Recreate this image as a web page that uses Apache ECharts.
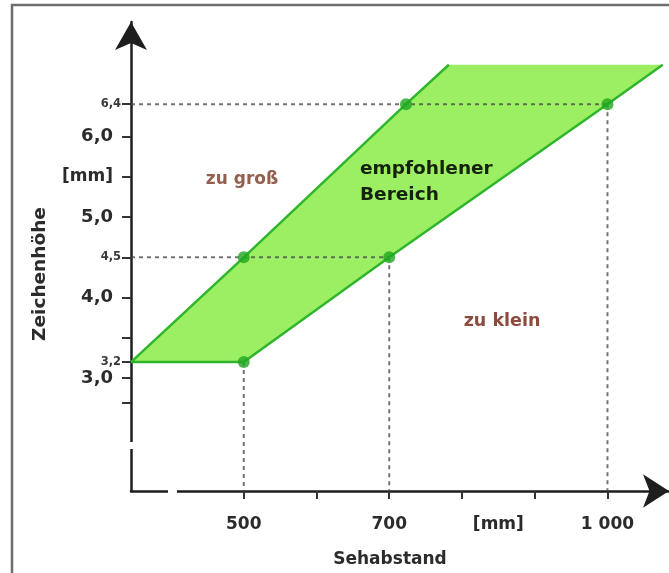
<!DOCTYPE html>
<html>
<head>
<meta charset="utf-8">
<script src="https://cdn.jsdelivr.net/npm/echarts@6/dist/echarts.min.js"></script>
<style>
html,body{margin:0;padding:0;background:#fff;}
#chart{width:669px;height:573px;}
</style>
</head>
<body>
<div id="chart"></div>
<script>
// ---- data ----
const xMin = 345, xMax = 1084.6;
const yMin = 1.6, yMax = 7.42;

const xTickValues = [500, 600, 700, 800, 900, 1000];
const xLabelValues = [500, 700, 850, 1000];
const xLabelTexts = ['500', '700', '[mm]', '1 000'];

const yTickValues = [2.7, 3.0, 3.2, 3.5, 4.0, 4.5, 5.0, 5.5, 6.0, 6.4];
const yMajorLabels = [3.0, 4.0, 5.0, 6.0];
const yMinorLabels = [3.2, 4.5, 6.4];
const yUnitValue = 5.5;

// recommended region (polygon vertices)
const regionX = [345, 500, 723, 782, 1076, 1000, 700, 500];
const regionY = [3.2, 4.5, 6.4, 6.89, 6.89, 6.4, 4.5, 3.2];

// boundary lines
const upperX = [345, 500, 723, 782];
const upperY = [3.2, 4.5, 6.4, 6.89];
const lowerX = [345, 500, 700, 1000, 1076];
const lowerY = [3.2, 3.2, 4.5, 6.4, 6.89];

// marked points
const pointX = [500, 500, 700, 723, 1000];
const pointY = [3.2, 4.5, 4.5, 6.4, 6.4];

// dashed guides: horizontal (y value up to x) and vertical (x value down from y)
const guideHY = [6.4, 4.5];
const guideHX = [1000, 700];
const guideVX = [500, 700, 1000];
const guideVY = [3.2, 4.5, 6.4];

// ---- chart ----
const chart = echarts.init(document.getElementById('chart'), null, {renderer: 'canvas'});
const fmt = v => v.toFixed(1).replace('.', ',');
const near = (a, b) => Math.abs(a - b) < 1e-6;

const guideStyle = {color: 'rgba(70,70,70,0.75)', width: 2, type: [4, 4]};
const guideSeries = [];
guideHY.forEach((y, i) => {
  guideSeries.push({type: 'line', data: [[xMin, y], [guideHX[i], y]], symbol: 'none',
    lineStyle: guideStyle, z: 3, silent: true, animation: false});
});
guideVX.forEach((x, i) => {
  guideSeries.push({type: 'line', data: [[x, guideVY[i]], [x, yMin]], symbol: 'none',
    lineStyle: guideStyle, z: 3, silent: true, animation: false});
});

const option = {
  animation: false,
  backgroundColor: '#fff',
  grid: {left: 131, right: 0, top: 22, bottom: 81},
  xAxis: {
    type: 'value', min: xMin, max: xMax,
    splitLine: {show: false},
    axisLine: {show: true, onZero: false, lineStyle: {color: '#1e1e1e', width: 2.5},
      symbol: ['none', 'arrow'], symbolSize: [25, 26]},
    axisTick: {show: true, customValues: xTickValues, length: 8, inside: false,
      lineStyle: {color: '#333', width: 2}},
    axisLabel: {
      customValues: xLabelValues, margin: 25,
      formatter: v => { const i = xLabelValues.findIndex(a => near(a, v)); return i >= 0 ? xLabelTexts[i] : ''; },
      fontFamily: 'DejaVu Sans', fontWeight: 'bold', fontSize: 17, color: '#2b2b2b'
    },
    name: 'Sehabstand', nameLocation: 'middle', nameGap: 60,
    nameTextStyle: {fontFamily: 'DejaVu Sans', fontWeight: 'bold', fontSize: 17, color: '#2b2b2b', padding: [0, 20, 0, 0]}
  },
  yAxis: {
    type: 'value', min: yMin, max: yMax,
    splitLine: {show: false},
    axisLine: {show: true, onZero: false, lineStyle: {color: '#1e1e1e', width: 2.5},
      symbol: ['none', 'arrow'], symbolSize: [24, 28]},
    axisTick: {show: true, customValues: yTickValues, length: 9,
      lineStyle: {color: '#333', width: 2}},
    axisLabel: {
      customValues: yMajorLabels.concat(yMinorLabels, [yUnitValue]),
      margin: 10,
      formatter: v => {
        if (near(v, yUnitValue)) return '{u|[mm]}';
        if (yMinorLabels.some(a => near(a, v))) return '{s|' + fmt(v) + '}';
        return '{b|' + fmt(v) + '}';
      },
      rich: {
        b: {fontFamily: 'DejaVu Sans', fontWeight: 'bold', fontSize: 18, color: '#2b2b2b', padding: [0, 8, 0, 0]},
        s: {fontFamily: 'DejaVu Sans', fontWeight: 'bold', fontSize: 11.5, color: '#3a3a3a'},
        u: {fontFamily: 'DejaVu Sans', fontWeight: 'bold', fontSize: 17, color: '#2b2b2b', padding: [0, 8, 0, 0]}
      }
    }
  },
  graphic: [
    {type: 'rect', shape: {x: 12, y: 5, width: 700, height: 620}, style: {fill: 'none', stroke: '#6e6e6e', lineWidth: 2.5}, z: 0, silent: true},
    {type: 'text', x: 40, y: 274, rotation: Math.PI / 2,
      style: {text: 'Zeichenhöhe', fontFamily: 'DejaVu Sans', fontWeight: 'bold', fontSize: 18.5, fill: '#2b2b2b', align: 'center', verticalAlign: 'middle'}, z: 10},
    {type: 'text', x: 242, y: 180,
      style: {text: 'zu groß', fontFamily: 'DejaVu Sans', fontWeight: 'bold', fontSize: 17, fill: '#93604f', align: 'center', verticalAlign: 'middle'}, z: 10},
    {type: 'text', x: 360, y: 182,
      style: {text: 'empfohlener\nBereich', fontFamily: 'DejaVu Sans', fontWeight: 'bold', fontSize: 18.5, lineHeight: 26, fill: '#15220e', align: 'left', verticalAlign: 'middle'}, z: 10},
    {type: 'text', x: 502, y: 321,
      style: {text: 'zu klein', fontFamily: 'DejaVu Sans', fontWeight: 'bold', fontSize: 17.5, fill: '#8c4b3d', align: 'center', verticalAlign: 'middle'}, z: 10},
    // axis breaks
    {type: 'rect', shape: {x: 125, y: 442, width: 12, height: 7}, style: {fill: '#fff'}, z: 20, silent: true},
    {type: 'rect', shape: {x: 168, y: 485, width: 9, height: 12}, style: {fill: '#fff'}, z: 20, silent: true}
  ],
  series: [
    {
      type: 'custom', clip: false, z: 1, silent: true,
      data: [0],
      renderItem: (params, api) => {
        const pts = regionX.map((x, i) => api.coord([x, regionY[i]]));
        return {type: 'polygon', shape: {points: pts}, style: {fill: '#9cef62', stroke: 'none'}};
      }
    },
    ...guideSeries,
    {type: 'line', data: upperX.map((x, i) => [x, upperY[i]]), symbol: 'none', clip: false,
      lineStyle: {color: '#2fb52c', width: 2.5}, z: 4, silent: true},
    {type: 'line', data: lowerX.map((x, i) => [x, lowerY[i]]), symbol: 'none', clip: false,
      lineStyle: {color: '#2fb52c', width: 2.5}, z: 4, silent: true},
    {type: 'scatter', data: pointX.map((x, i) => [x, pointY[i]]), symbol: 'circle', symbolSize: 12,
      itemStyle: {color: '#1fa61f'}, z: 5, silent: true}
  ]
};
chart.setOption(option);
</script>
</body>
</html>
